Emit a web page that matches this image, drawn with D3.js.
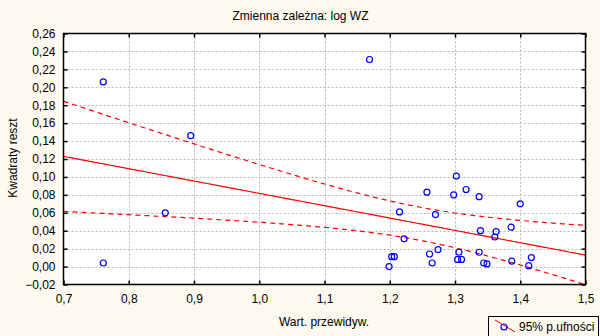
<!DOCTYPE html>
<html><head><meta charset="utf-8">
<script src="https://cdn.jsdelivr.net/npm/d3@7"></script>
<style>
html,body{margin:0;padding:0;background:#fdf9ee;}
text{font-family:"Liberation Sans",Arial,sans-serif;font-size:12px;fill:#000;}
</style></head>
<body><svg id="c" width="600" height="336"></svg>
<script>
const title = "Zmienna zależna: log WZ";
const xTitle = "Wart. przewidyw.";
const yTitle = "Kwadraty reszt";
const legendLabel = "95% p.ufności";
const xTicks = [0.7,0.8,0.9,1.0,1.1,1.2,1.3,1.4,1.5];
const yTicks = [-0.02,0,0.02,0.04,0.06,0.08,0.10,0.12,0.14,0.16,0.18,0.20,0.22,0.24,0.26];
const predicted = [0.761,0.895,1.169,0.761,0.856,1.302,1.317,1.257,1.298,1.337,1.400,1.215,1.270,1.386,1.339,1.363,1.361,1.222,1.274,1.306,1.337,1.261,1.203,1.207,1.417,1.304,1.310,1.387,1.265,1.344,1.349,1.413,1.199];
const sqResid = [0.206,0.146,0.231,0.004,0.060,0.101,0.086,0.083,0.080,0.078,0.070,0.061,0.058,0.044,0.040,0.039,0.033,0.031,0.019,0.016,0.016,0.014,0.011,0.011,0.010,0.008,0.008,0.006,0.004,0.004,0.003,0.001,0.000];

const svg = d3.select("#c");
const L=63.5,R=585.5,T=33.5,B=284.5;
const x = d3.scaleLinear().domain([0.7,1.5]).range([L,R]);
const y = d3.scaleLinear().domain([-0.02,0.26]).range([B,T]);
const fmt = v => d3.format(".1f")(v).replace(".",",");
const fmtY = v => d3.format(".2f")(v).replace("-","-").replace(".",",");

svg.append("rect").attr("x",L).attr("y",T).attr("width",R-L).attr("height",B-T).attr("fill","#fff");

// grid
const g = svg.append("g");
g.selectAll(".gx").data(xTicks.slice(1,-1)).join("line")
 .attr("x1",d=>Math.round(x(d))+0.5).attr("x2",d=>Math.round(x(d))+0.5).attr("y1",T).attr("y2",B)
 .attr("stroke","#b8b8b8").attr("stroke-dasharray","2,2");
g.selectAll(".gy").data(yTicks.slice(1,-1)).join("line")
 .attr("y1",d=>Math.round(y(d))+0.5).attr("y2",d=>Math.round(y(d))+0.5).attr("x1",L).attr("x2",R)
 .attr("stroke","#b8b8b8").attr("stroke-dasharray","2,2");

// regression + 95% CI computed from the data
const n = predicted.length;
const mx = d3.mean(predicted), my = d3.mean(sqResid);
let sxx=0,sxy=0; for(let i=0;i<n;i++){sxx+=(predicted[i]-mx)**2; sxy+=(predicted[i]-mx)*(sqResid[i]-my);}
const b1 = sxy/sxx, b0 = my-b1*mx;
let sse=0; for(let i=0;i<n;i++){sse+=(sqResid[i]-b0-b1*predicted[i])**2;}
const s = Math.sqrt(sse/(n-2)), tq = 2.04;
const grid = d3.range(0.7,1.5001,0.005);
const fit = xv => b0+b1*xv;
const hw = xv => tq*s*Math.sqrt(1/n+(xv-mx)**2/sxx);

const clip = svg.append("clipPath").attr("id","pc").append("rect").attr("x",L).attr("y",T).attr("width",R-L).attr("height",B-T);
const lines = svg.append("g").attr("clip-path","url(#pc)");
const line = d3.line().x(d=>x(d[0])).y(d=>y(d[1]));
lines.append("path").attr("d",line(grid.map(v=>[v,fit(v)]))).attr("fill","none").attr("stroke","#ff0000").attr("stroke-width",1.2);
lines.append("path").attr("d",line(grid.map(v=>[v,fit(v)+hw(v)]))).attr("fill","none").attr("stroke","#ff0000").attr("stroke-width",1.2).attr("stroke-dasharray","5,4");
lines.append("path").attr("d",line(grid.map(v=>[v,fit(v)-hw(v)]))).attr("fill","none").attr("stroke","#ff0000").attr("stroke-width",1.2).attr("stroke-dasharray","5,4");

// points
svg.append("g").selectAll("circle").data(predicted).join("circle")
 .attr("cx",(d,i)=>x(d)).attr("cy",(d,i)=>y(sqResid[i])).attr("r",3)
 .attr("fill","none").attr("stroke","#0000ff").attr("stroke-width",1.2);

// frame
svg.append("rect").attr("x",L).attr("y",T).attr("width",R-L).attr("height",B-T).attr("fill","none").attr("stroke","#000").attr("stroke-width",1.5);

// axes (ticks inside)
const ax = svg.append("g").attr("transform",`translate(0,${B})`).call(d3.axisBottom(x).tickValues(xTicks).tickFormat(fmt).tickSizeInner(-4).tickSizeOuter(0).tickPadding(10));
const axTop = svg.append("g").attr("transform",`translate(0,${T})`).call(d3.axisTop(x).tickValues(xTicks).tickFormat("").tickSizeInner(-4).tickSizeOuter(0));
const ay = svg.append("g").attr("transform",`translate(${L},0)`).call(d3.axisLeft(y).tickValues(yTicks).tickFormat(fmtY).tickSizeInner(-4).tickSizeOuter(0).tickPadding(8));
const ayR = svg.append("g").attr("transform",`translate(${R},0)`).call(d3.axisRight(y).tickValues(yTicks).tickFormat("").tickSizeInner(-4).tickSizeOuter(0));
[ax,axTop,ay,ayR].forEach(a=>{a.select(".domain").remove(); a.selectAll("line").attr("stroke","#000").attr("stroke-width",1.5); a.selectAll("text").attr("font-size",12).attr("font-family",'"Liberation Sans",Arial,sans-serif');});

// titles
svg.append("text").attr("x",300.5).attr("y",20).attr("text-anchor","middle").text(title);
svg.append("text").attr("x",324).attr("y",326).attr("text-anchor","middle").text(xTitle);
svg.append("text").attr("transform","translate(17,158) rotate(-90)").attr("text-anchor","middle").text(yTitle);

// legend
const lg = svg.append("g");
lg.append("rect").attr("x",488.5).attr("y",316.5).attr("width",110).attr("height",30).attr("fill","#fdf9ee").attr("stroke","#000");
lg.append("line").attr("x1",495).attr("y1",320).attr("x2",515).attr("y2",332).attr("stroke","#ff0000");
lg.append("circle").attr("cx",504).attr("cy",327).attr("r",3).attr("fill","none").attr("stroke","#0000ff").attr("stroke-width",1.2);
lg.append("text").attr("x",519).attr("y",331).text(legendLabel);
</script></body></html>
